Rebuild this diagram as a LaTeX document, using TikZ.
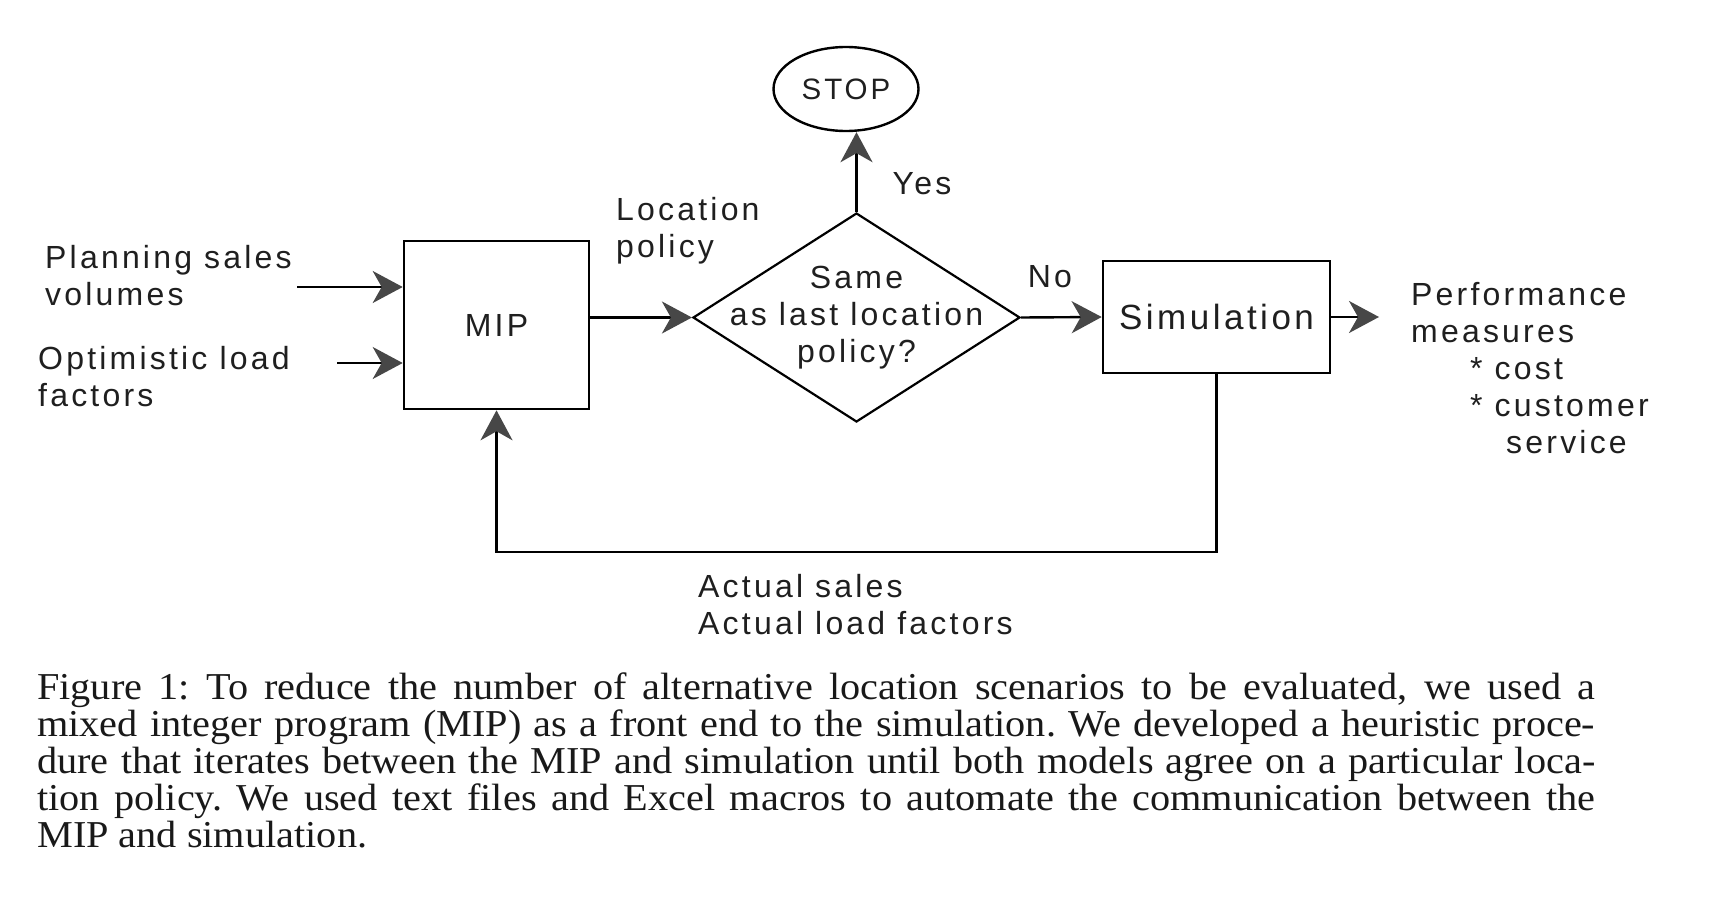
\documentclass[tikz,border=0pt]{standalone}
\usepackage{fontspec}
\setmainfont{Liberation Serif}[FakeStretch=1.06]
\newfontfamily\diagfont[LetterSpace=10]{Liberation Sans}
\usetikzlibrary{shapes.geometric, arrows.meta, positioning}

\begin{document}
\begin{tikzpicture}[x=1pt, y=-1pt,
    box/.style={draw, line width=2.6pt, inner sep=0pt},
    arr/.style={line width=2.4pt, -{Stealth[length=30pt, width=32pt, inset=9pt, color=black!72]}},
    txt/.style={font=\diagfont\fontsize{32}{37}\selectfont, text=black!88, inner sep=0pt, align=left}]
    \useasboundingbox (0,0) rectangle (1713,907);
    %blocchi
    \node[box, txt, align=center, minimum width=185pt, minimum height=168pt] (mip) at (496.5,325) {MIP};
    \node[box, minimum width=227pt, minimum height=112pt, text=black!88, font=\diagfont\fontsize{35}{40}\selectfont] (sim) at (1216.5,317) {Simulation};
    \node[draw, diamond, line width=2.2pt, minimum width=327pt, minimum height=209pt, inner sep=0pt] (dec) at (856.5,317.5) {};
    \node[txt, align=center] (quest) at (dec.center) {Same\\as last location\\policy?};
    \node[draw, ellipse, line width=2.4pt, minimum width=145pt, minimum height=84pt, inner sep=0pt, text=black!88, font=\diagfont\fontsize{29.5}{35}\selectfont] (stop) at (846,89) {STOP};
    %testi
    \node[txt, anchor=west] (plan) at (45,276) {Planning sales\\volumes};
    \node[txt, anchor=west] (opt) at (38,377) {Optimistic load\\factors};
    \node[txt, anchor=west] (loc) at (616,231) {Location\\policy};
    \node[txt] (yes) at (922,184) {Yes};
    \node[txt] (no) at (1050,277) {No};
    \node[txt, anchor=west] (perf) at (1411,368) {Performance\\measures\\\hspace*{59pt}* cost\\\hspace*{59pt}* customer\\\hspace*{95pt}service};
    \node[txt, anchor=west] (act) at (698,605) {Actual sales\\Actual load factors};
    %frecce
    \coordinate (in1) at (297,287);
    \coordinate (in2) at (337,363);
    \coordinate (out) at (1379,317);
    \coordinate (loop) at (sim.south |- 0,552);
    \draw[arr] (in1) -- (in1 -| mip.west);
    \draw[arr] (in2) -- (in2 -| mip.west);
    \draw[arr] (mip.east |- dec.west) -- (dec.west);
    \draw[arr] (dec.north) -- (dec.north |- stop.south);
    \draw[arr] (dec.east) -- (sim.west);
    \draw[arr] (sim.east) -- (out);
    \draw[arr] (sim.south) -- (loop) -| (mip.south);
    %didascalia
    \node[anchor=north west, inner sep=0pt, text width=1558pt, align=justify, text=black!90, font={\fontsize{38}{37}\selectfont}] (cap) at (37,673) {\baselineskip=37pt\lineskiplimit=-20pt\relax\frenchspacing Figure 1: To reduce the number of alternative location scenarios to be evaluated, we used a\linebreak mixed integer program (MIP) as a front end to the simulation. We developed a heuristic proce-\linebreak dure that iterates between the MIP and simulation until both models agree on a particular loca-\linebreak tion policy. We used text files and Excel macros to automate the communication between the\linebreak MIP and simulation.\par};
\end{tikzpicture}
\end{document}
